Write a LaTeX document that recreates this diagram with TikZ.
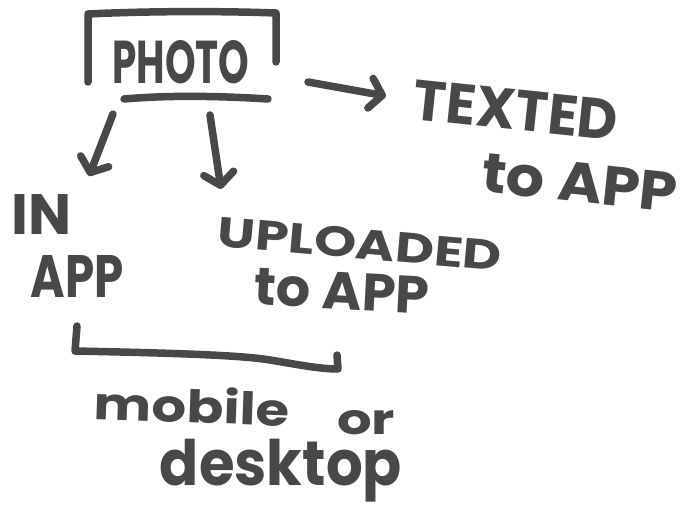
\documentclass[tikz,border=0pt]{standalone}
\usepackage{fontspec}
\setmainfont{Poppins}
\usepackage{graphicx}
\usetikzlibrary{arrows.meta}
\definecolor{ink}{HTML}{484848}
\newcommand\skt[3]{\resizebox{#1pt}{#2pt}{\bfseries #3}}
\newcommand\sktt[3]{\resizebox*{#1pt}{#2pt}{\bfseries #3}}
\tikzset{
  pen/.style={draw=ink, line width=7.5pt, line cap=round, line join=round},
  arr/.style={pen, -{Straight Barb[length=12pt,width=30pt,round]}},
  word/.style={inner sep=0pt, text=ink}
}
\begin{document}
\begin{tikzpicture}[x=1pt,y=-1pt]
\useasboundingbox[fill=white] (0,0) rectangle (685,510);
% PHOTO box
\node[word] (photo) at (181,62) {\skt{137}{43}{PHOTO}};
\draw[pen] (88,82) -- (88,14) .. controls (150,11) and (220,11) .. (276,13) -- (276,62);
\draw[pen] (124,99) .. controls (170,95) and (220,96) .. (268,99);
% labels
\node[word, rotate=-6] (texted) at (516,110) {\skt{205}{40}{TEXTED}};
\node[word, rotate=-6] (texted2) at (580,183) {\skt{196}{39}{to APP}};
\node[word] (in) at (42,215) {\skt{60}{40}{IN}};
\node[word] (inapp) at (77,276) {\skt{93}{42}{APP}};
\node[word, rotate=-5] (up) at (360,244) {\skt{285}{30}{UPLOADED}};
\node[word, rotate=-3] (up2) at (342,291) {\skt{175}{37}{to APP}};
\node[word, rotate=-2] (mobile) at (192,405) {\skt{195}{36}{mobile}};
\node[word] (or) at (366,423) {\skt{58}{24}{or}};
\node[word] (desk) at (281,471) {\sktt{242}{63}{desktop}};
% arrows
\coordinate (a1s) at (113,114);
\coordinate (a1t) at (89,176);
\coordinate (a2s) at (210,115);
\coordinate (a2t) at (221,189);
\coordinate (a3s) at (308,82);
\coordinate (a3t) at (386,96);
\draw[arr] (a1s) -- (a1t);
\draw[arr] (a2s) -- (a2t);
\draw[arr] (a3s) -- (a3t);
% bottom bracket
\coordinate (b1) at (77,326);
\coordinate (b2) at (75,351);
\coordinate (b3) at (338,369);
\coordinate (b4) at (337,355);
\draw[pen] (b1) -- (b2) .. controls (170,353) and (240,355) .. (270,360) .. controls (300,365) and (320,369) .. (b3) -- (b4);
\end{tikzpicture}
\end{document}
